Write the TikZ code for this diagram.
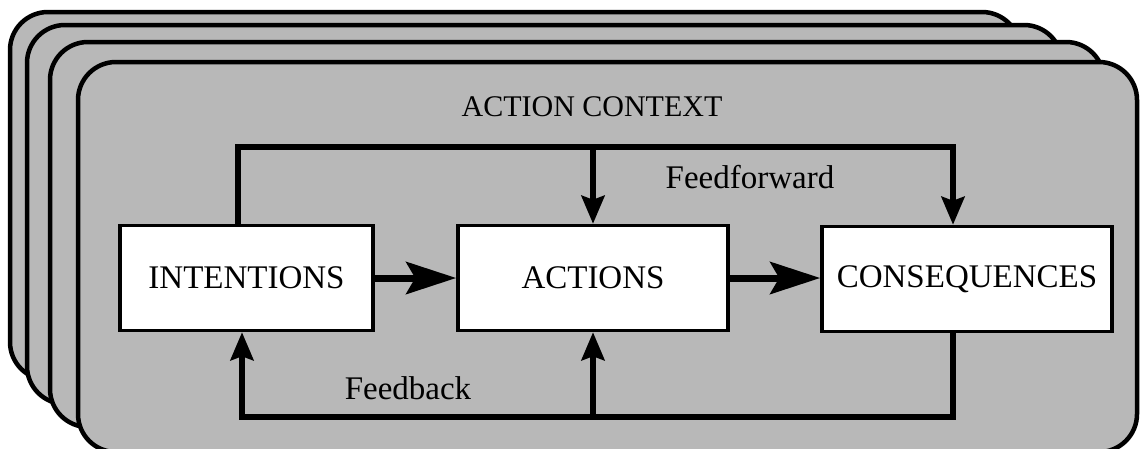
\documentclass[tikz,border=0pt]{standalone}
\usepackage{fontspec}
\setmainfont{Liberation Serif}
\usetikzlibrary{arrows.meta,calc}
\definecolor{bg}{RGB}{184,184,184}
\tikzset{
  layer/.style={draw=black, line width=4.5pt, fill=bg, rounded corners=38pt},
  box/.style={draw=black, line width=3.5pt, fill=white, minimum height=105pt, inner sep=0pt,
              font=\fontsize{33}{40}\selectfont},
  conn/.style={line width=5.5pt, line join=miter},
  harrow/.style={conn, line width=7pt, -{Stealth[length=50pt,width=32pt,inset=9pt]}},
  varrow/.style={conn, -{Stealth[length=28pt,width=23pt,inset=4pt]}},
  lbl/.style={font=\fontsize{33}{40}\selectfont, inner sep=0pt},
}
\begin{document}
\begin{tikzpicture}[x=1pt,y=-1pt]
\useasboundingbox (0,0) rectangle (1140,448);
\clip (0,0) rectangle (1140,448);
% stacked context layers
\draw[layer] (10,12) rectangle (1020,380);
\draw[layer] (27,25) rectangle (1062,404);
\draw[layer] (50,42) rectangle (1104,427);
\draw[layer] (78,62) rectangle (1137,452);
% title
\node[lbl, font=\fontsize{30}{36}\selectfont] (ctx) at (592,107) {ACTION CONTEXT};
% boxes
\node[box, minimum width=253pt] (int) at (246.5,278) {INTENTIONS};
\node[box, minimum width=270pt] (act) at (593,278) {ACTIONS};
\node[box, minimum width=290pt] (cons) at (967,279) {CONSEQUENCES};
% main flow
\draw[harrow] (int.east) -- (int.east -| act.west);
\draw[harrow] (act.east) -- (act.east -| cons.west);
% feedforward
\coordinate (ffL) at (238,147);
\coordinate (ffR) at (953,147);
\draw[varrow] (int.north -| ffL) -- (ffL) -- (ffR) -- (cons.north -| ffR);
\draw[varrow] (act.north |- ffL) -- (act.north);
\node[lbl] (ff) at (750,177) {Feedforward};
% feedback
\coordinate (fbR) at (953,417);
\coordinate (fbL) at (242,417);
\draw[varrow] (cons.south -| fbR) -- (fbR) -- (fbL) -- (int.south -| fbL);
\draw[varrow] (act.south |- fbR) -- (act.south);
\node[lbl] (fb) at (408,388) {Feedback};
\end{tikzpicture}
\end{document}
